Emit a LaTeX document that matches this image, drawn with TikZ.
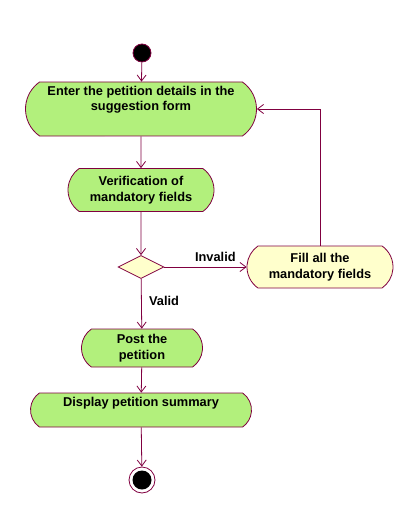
\documentclass[tikz,border=0pt]{standalone}
\usepackage{fontspec}
\setmainfont{Liberation Sans}
\usetikzlibrary{shapes.misc,shapes.geometric,arrows.meta}
\definecolor{actgreen}{RGB}{178,240,124}
\definecolor{actcream}{RGB}{255,255,204}
\definecolor{wire}{RGB}{128,0,64}
\tikzstyle{activity}=[rounded rectangle, rounded rectangle arc length=110, draw=wire, fill=actgreen, inner sep=0pt, align=center, font=\bfseries\fontsize{12.8}{15.5}\selectfont]
\tikzstyle{flow}=[draw=wire, -{Straight Barb[length=6pt,width=9pt]}]
\tikzstyle{guard}=[font=\bfseries\fontsize{12.8}{15.5}\selectfont]

\begin{document}
\begin{tikzpicture}[x=1pt, y=-1pt, line width=0.8pt]
\useasboundingbox (0,0) rectangle (418,524);
% Activities
    \node[circle, fill=black, draw=wire, minimum size=18pt, inner sep=0pt] (start) at (142,53) {};
    \node[activity, minimum width=231pt, minimum height=54pt, text depth=21pt] (enter) at (141,109) {Enter the petition details in the\\suggestion form};
    \node[activity, minimum width=146pt, minimum height=43pt] (verify) at (141,190) {Verification of\\mandatory fields};
    \node[diamond, draw=wire, fill=actcream, minimum width=46pt, minimum height=23pt, inner sep=0pt] (check) at (141,267) {};
    \node[activity, fill=actcream, minimum width=146pt, minimum height=42pt] (fill) at (320,267) {Fill all the\\mandatory fields};
    \node[activity, minimum width=121pt, minimum height=38pt] (post) at (142,348) {Post the\\petition};
    \node[activity, minimum width=221pt, minimum height=34pt, text depth=17pt] (summary) at (141,410) {Display petition summary};
    \node[circle, draw=wire, minimum size=26pt, inner sep=0pt] (stop) at (142,480) {};
    \node[circle, fill=black, minimum size=19pt, inner sep=0pt] at (stop) {};
% Transitions
    \draw[flow] (start) -- (enter);
    \draw[flow] (enter) -- (verify);
    \draw[flow] (verify) -- (check);
    \draw[flow] (check) -- node[guard, above, pos=0.62, yshift=2pt] {Invalid} (fill);
    \draw[flow] (check) -- node[guard, right, pos=0.45, xshift=4pt] {Valid} (post);
    \draw[flow] (post) -- (summary);
    \draw[flow] (summary) -- (stop);
    \draw[flow] (fill.north) |- (enter.east);
\end{tikzpicture}
\end{document}
